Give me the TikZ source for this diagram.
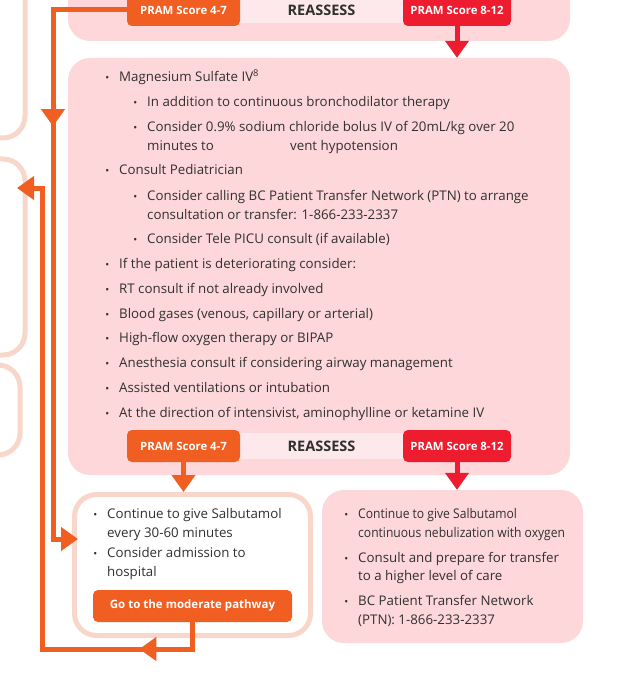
\documentclass[tikz,border=0pt]{standalone}
\usepackage{fontspec}
\usepackage{graphicx}
\setmainfont{Open Sans}
\usetikzlibrary{arrows.meta,decorations.markings}
\definecolor{pramor}{RGB}{240,94,34}
\definecolor{pramred}{RGB}{237,28,46}
\definecolor{pinkbg}{RGB}{253,215,218}
\definecolor{pinklt}{RGB}{253,233,235}
\definecolor{peach}{RGB}{249,214,202}
\definecolor{ink}{RGB}{48,48,48}
\newcommand\bul{\llap{\raisebox{0ex}{\fontsize{10.5}{10.5}\selectfont\textbullet}\hspace{10pt}}}

\begin{document}
\begin{tikzpicture}[x=1pt, y=-1pt,
    >={Triangle[length=17pt,width=23pt]},
    panel/.style={fill=pinkbg, rounded corners=22pt, inner sep=0pt},
    btn/.style={rounded corners=5pt, text=white, inner sep=0pt, minimum height=32pt,
      font=\fontsize{11.4}{13}\selectfont\bfseries},
    strip/.style={fill=pinklt, inner sep=0pt, minimum width=180pt, minimum height=26pt,
      font=\fontsize{14.5}{16}\selectfont\bfseries, text=ink},
    txt/.style={anchor=base west, inner sep=0pt, font=\fontsize{13.3}{15}\selectfont, text=ink},
    conn/.style={line width=5pt, color=pramor, ->},
    redarr/.style={line width=5pt, color=pramred, ->}]
  \useasboundingbox (0,0) rectangle (619,679);
  \clip (0,0) rectangle (619,679);
  \draw[line width=5pt, peach, rounded corners=22pt] (-60,-60) rectangle (25,138);
  \draw[line width=5pt, peach, rounded corners=22pt] (-60,159) rectangle (25,355);
  \draw[line width=5pt, peach, rounded corners=22pt] (-60,365) rectangle (20,455);

  \node[panel, minimum width=502pt, minimum height=81pt] (topbox) at (319,0.5) {};
  \node[strip] (reassA) at (321.5,10) {REASSESS};
  \node[btn, fill=pramor, minimum width=113pt] (pramA) at (183.5,10) {PRAM Score 4-7};
  \node[btn, fill=pramred, minimum width=108pt] (pramB) at (457,10) {PRAM Score 8-12};

  \node[panel, minimum width=502pt, minimum height=417pt] (main) at (319,266.5) {};
  \node[txt] (t1) at (119,82) {\bul Magnesium Sulfate IV\textsuperscript{8}};
  \node[txt] (t2) at (147,107) {\bul In addition to continuous bronchodilator therapy};
  \node[txt] (t3) at (147,132) {\bul Consider 0.9\% sodium chloride bolus IV of 20mL/kg over 20};
  \node[txt] (t3b) at (147,151) {\makebox[143pt][l]{minutes to}vent hypotension};
  \node[txt] (t4) at (119,175) {\bul Consult Pediatrician};
  \node[txt] (t5) at (147,200) {\bul Consider calling BC Patient Transfer Network (PTN) to arrange};
  \node[txt] (t5b) at (147,219) {consultation or transfer: 1-866-233-2337};
  \node[txt] (t6) at (147,243) {\bul Consider Tele PICU consult (if available)};
  \node[txt] (t7) at (119,268) {\bul If the patient is deteriorating consider:};
  \node[txt] (t8) at (119,293) {\bul RT consult if not already involved};
  \node[txt] (t9) at (119,318) {\bul Blood gases (venous, capillary or arterial)};
  \node[txt] (t10) at (119,342) {\bul High-flow oxygen therapy or BIPAP};
  \node[txt] (t11) at (119,367) {\bul Anesthesia consult if considering airway management};
  \node[txt] (t12) at (119,392) {\bul Assisted ventilations or intubation};
  \node[txt] (t13) at (119,417) {\bul At the direction of intensivist, aminophylline or ketamine IV};
  \node[strip] (reassB) at (321.5,446) {REASSESS};
  \node[btn, fill=pramor, minimum width=113pt] (pramC) at (183.5,446) {PRAM Score 4-7};
  \node[btn, fill=pramred, minimum width=108pt] (pramD) at (457,446) {PRAM Score 8-12};

  \node[draw=peach, line width=5pt, fill=white, rounded corners=22pt, inner sep=0pt,
    minimum width=236pt, minimum height=141pt] (lbox) at (192.5,565) {};
  \node[txt] (l1) at (107,518) {\bul Continue to give Salbutamol};
  \node[txt] (l1b) at (107,537) {every 30-60 minutes};
  \node[txt] (l2) at (107,557) {\bul Consider admission to};
  \node[txt] (l2b) at (107,576) {hospital};
  \node[btn, fill=pramor, minimum width=199pt, font=\fontsize{11.5}{13}\selectfont\bfseries]
    (modbtn) at (192.5,606) {Go to the moderate pathway};

  \node[panel, minimum width=261pt, minimum height=153pt] (rbox) at (452.5,566.5) {};
  \node[txt] (r1) at (358,518) {\bul \scalebox{0.91}[1]{Continue to give Salbutamol}};
  \node[txt] (r1b) at (358,537) {\scalebox{0.91}[1]{continuous nebulization with oxygen}};
  \node[txt] (r2) at (358,562) {\bul Consult and prepare for transfer};
  \node[txt] (r2b) at (358,580) {to a higher level of care};
  \node[txt] (r3) at (358,605) {\bul BC Patient Transfer Network};
  \node[txt] (r3b) at (358,624) {(PTN): 1-866-233-2337};

  \coordinate (bendA) at (53,539);
  \coordinate (inA) at (78,539);
  \coordinate (bendB) at (42,649);
  \coordinate (outB) at (17,188);
  \draw[redarr] (pramB.south) -- (pramB.south |- main.north);
  \draw[redarr] (pramD.south) -- (pramD.south |- rbox.north);
  \draw[conn] (pramC.south) -- (pramC.south |- lbox.north);
  \draw[conn, postaction={decorate},
    decoration={markings, mark=at position 190pt with {\arrow{>}}}]
    (pramA.west) -- (pramA.west -| bendA) -- (bendA) -- (inA);
  \draw[conn, postaction={decorate},
    decoration={markings, mark=at position 80pt with {\arrow{>}}}]
    (modbtn.south) -- (modbtn.south |- bendB) -- (bendB) -- (bendB |- outB) -- (outB);
\end{tikzpicture}
\end{document}
